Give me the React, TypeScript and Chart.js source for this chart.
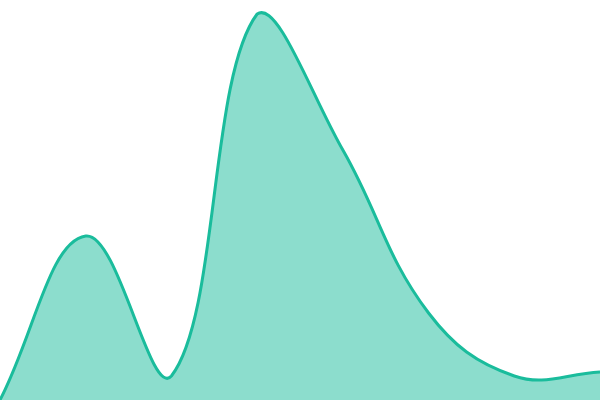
import React, { useEffect, useRef } from "react";
import { Chart, registerables } from "chart.js";

Chart.register(...registerables);

const labels = ["1", "2", "3", "4", "5", "6", "7", "8"];
const values = [0, 41, 6, 96.5, 62.5, 21.75, 6, 7];

export default function App() {
  const ref = useRef<HTMLCanvasElement | null>(null);
  useEffect(() => {
    document.body.style.margin = "0";
    const chart = new Chart(ref.current as HTMLCanvasElement, {
      type: "line",
      data: {
        labels,
        datasets: [
          {
            data: values,
            borderColor: "#1abc9c",
            backgroundColor: "rgba(26,188,156,0.5)",
            borderWidth: 3,
            fill: true,
            tension: 0.4,
            pointRadius: 0,
          },
        ],
      },
      options: {
        responsive: false,
        animation: false,
        layout: { padding: 0 },
        plugins: { legend: { display: false }, tooltip: { enabled: false } },
        scales: {
          x: { display: false },
          y: { display: false, min: 0, max: 100 },
        },
      },
    });
    return () => chart.destroy();
  }, []);
  return (
    <div style={{ position: "fixed", left: 0, top: 0, width: 600, height: 400 }}>
      <canvas ref={ref} width={600} height={400} />
    </div>
  );
}
